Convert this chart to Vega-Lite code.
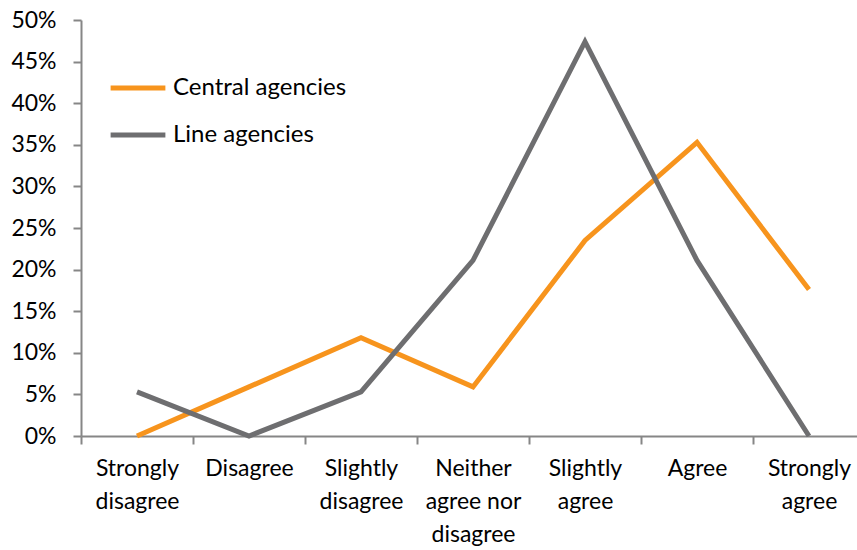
{
  "$schema": "https://vega.github.io/schema/vega-lite/v6.json",
  "width": 776,
  "height": 416,
  "autosize": "none",
  "padding": {"left": 81, "top": 20, "right": 0, "bottom": 114},
  "background": "white",
  "config": {
    "view": {"stroke": null},
    "font": "Lato",
    "axis": {"grid": false, "domainColor": "#868686", "tickColor": "#868686", "domainWidth": 2, "tickWidth": 2, "labelColor": "#000000", "labelFont": "Lato", "labelFontSize": 23}
  },
  "data": {
    "values": [
      {"response": "Strongly disagree", "group": "Central agencies", "share": 0},
      {"response": "Disagree", "group": "Central agencies", "share": 0.059},
      {"response": "Slightly disagree", "group": "Central agencies", "share": 0.118},
      {"response": "Neither agree nor disagree", "group": "Central agencies", "share": 0.059},
      {"response": "Slightly agree", "group": "Central agencies", "share": 0.235},
      {"response": "Agree", "group": "Central agencies", "share": 0.353},
      {"response": "Strongly agree", "group": "Central agencies", "share": 0.176},
      {"response": "Strongly disagree", "group": "Line agencies", "share": 0.053},
      {"response": "Disagree", "group": "Line agencies", "share": 0},
      {"response": "Slightly disagree", "group": "Line agencies", "share": 0.053},
      {"response": "Neither agree nor disagree", "group": "Line agencies", "share": 0.211},
      {"response": "Slightly agree", "group": "Line agencies", "share": 0.474},
      {"response": "Agree", "group": "Line agencies", "share": 0.211},
      {"response": "Strongly agree", "group": "Line agencies", "share": 0}
    ]
  },
  "mark": {"type": "line", "strokeWidth": 5, "strokeJoin": "miter", "strokeCap": "butt"},
  "encoding": {
    "x": {
      "field": "response",
      "type": "nominal",
      "sort": null,
      "scale": {"type": "band", "paddingInner": 0, "paddingOuter": 0, "range": [0, 784]},
      "axis": {
        "title": null,
        "labelAngle": 0,
        "tickBand": "extent",
        "tickSize": 8,
        "labelPadding": 13,
        "labelBaseline": "top",
        "labelLineHeight": 33,
        "labelExpr": "datum.label == 'Neither agree nor disagree' ? ['Neither', 'agree nor', 'disagree'] : split(datum.label, ' ')"
      }
    },
    "y": {
      "field": "share",
      "type": "quantitative",
      "scale": {"domain": [0, 0.5], "nice": false},
      "axis": {"title": null, "format": ".0%", "values": [0, 0.05, 0.1, 0.15, 0.2, 0.25, 0.3, 0.35, 0.4, 0.45, 0.5], "tickSize": 8, "labelPadding": 17}
    },
    "color": {
      "field": "group",
      "type": "nominal",
      "scale": {"domain": ["Central agencies", "Line agencies"], "range": ["#F7941D", "#6E6E70"]},
      "legend": {
        "title": null,
        "orient": "none",
        "legendX": 27,
        "legendY": 38,
        "symbolType": "stroke",
        "symbolSize": 3000,
        "symbolStrokeWidth": 5,
        "labelFontSize": 24,
        "labelFont": "Lato",
        "labelColor": "#000000",
        "labelOffset": 5,
        "labelLimit": 400,
        "rowPadding": 5
      }
    }
  }
}
